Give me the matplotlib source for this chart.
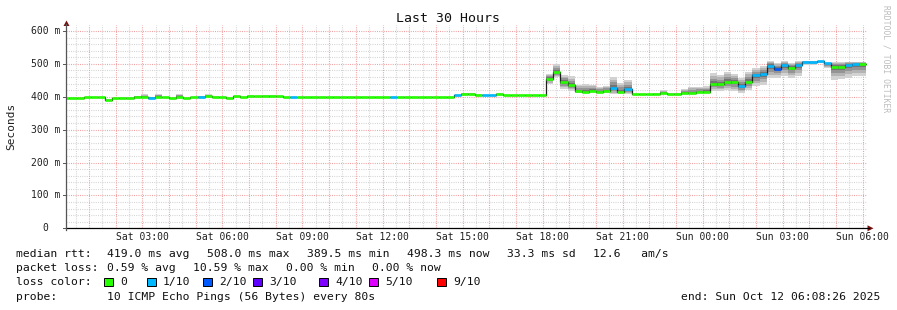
import numpy as np
import matplotlib
matplotlib.use("Agg")
import matplotlib.pyplot as plt
from matplotlib.patches import Rectangle, Polygon

# ---------------- data (16-minute consolidated steps, ms) ----------------
median_ms = [
    396, 396, 396, 398, 399, 399, 390, 396, 397, 397,
    399, 399, 397, 399, 398, 396, 399, 395, 398, 398,
    401, 400, 399, 396, 401, 398, 403, 401, 403, 403,
    401, 399, 399, 399, 399, 399, 399, 399, 399, 399,
    399, 399, 399, 399, 399, 399, 399, 399, 399, 399,
    399, 399, 399, 399, 399, 404, 407, 407, 406, 405,
    405, 409, 404, 404, 404, 404, 404, 404, 455, 475,
    445, 435, 417, 416, 419, 414, 418, 427, 414, 424,
    408, 408, 408, 409, 411, 409, 409, 411, 411, 415,
    416, 440, 438, 446, 444, 432, 446, 465, 469, 495,
    485, 497, 489, 497, 505, 505, 508, 502, 492, 492,
    497, 499, 500,
]
smoke_hi_ms = [
    397, 397, 397, 399, 400, 400, 392, 397, 398, 398,
    403, 408, 400, 409, 399, 397, 409, 396, 399, 403,
    407, 401, 400, 397, 402, 399, 404, 402, 404, 404,
    402, 400, 400, 400, 400, 400, 400, 400, 400, 400,
    400, 400, 400, 400, 400, 400, 400, 400, 400, 400,
    400, 400, 400, 400, 400, 405, 411, 411, 407, 406,
    406, 410, 405, 405, 405, 405, 405, 405, 470, 500,
    467, 462, 436, 440, 436, 431, 434, 460, 443, 450,
    409, 409, 409, 410, 420, 410, 410, 425, 430, 430,
    432, 471, 466, 475, 468, 458, 475, 488, 493, 508,
    504, 508, 503, 508, 508, 508, 510, 504, 507, 507,
    507, 507, 507,
]
smoke_lo_ms = [
    395, 395, 395, 397, 398, 398, 388, 395, 396, 396,
    398, 398, 396, 398, 397, 395, 398, 394, 397, 397,
    400, 399, 398, 395, 400, 397, 402, 400, 402, 402,
    400, 398, 398, 398, 398, 398, 398, 398, 398, 398,
    398, 398, 398, 398, 398, 398, 398, 398, 398, 398,
    398, 398, 398, 398, 398, 403, 406, 406, 405, 404,
    404, 408, 403, 403, 403, 403, 403, 403, 438, 460,
    423, 418, 410, 413, 413, 412, 412, 408, 410, 408,
    407, 407, 407, 408, 410, 408, 408, 410, 410, 410,
    412, 417, 418, 422, 418, 412, 422, 433, 437, 458,
    458, 463, 458, 463, 498, 498, 503, 488, 452, 455,
    458, 462, 462,
]
loss_count = [0] * 113
for k in [12, 19, 32, 46, 55, 59, 60, 77, 79, 95, 97, 98, 99, 101,
          103, 104, 105, 106, 107, 110, 111]:
    loss_count[k] = 1
loss_count[100] = 2

loss_levels = [0, 1, 2, 3, 4, 5, 9]
loss_labels = ["0", "1/10", "2/10", "3/10", "4/10", "5/10", "9/10"]
loss_colors = ["#26ff00", "#00b8ff", "#0059ff", "#5e00ff", "#7e00ff", "#dd00ff", "#ff0000"]

y_ticks = [0, 100, 200, 300, 400, 500, 600]
y_tick_labels = ["0", "100 m", "200 m", "300 m", "400 m", "500 m", "600 m"]
x_tick_hours = [3, 6, 9, 12, 15, 18, 21, 24, 27, 30]   # hours since Sat 00:00
x_tick_labels = ["Sat 03:00", "Sat 06:00", "Sat 09:00", "Sat 12:00", "Sat 15:00",
                 "Sat 18:00", "Sat 21:00", "Sun 00:00", "Sun 03:00", "Sun 06:00"]

title = "Last 30 Hours"
stats_rows = [
    [("median rtt:", 16), ("419.0 ms avg", 107), ("508.0 ms max", 207),
     ("389.5 ms min", 307), ("498.3 ms now", 407), ("33.3 ms sd", 507),
     ("12.6   am/s", 593)],
    [("packet loss:", 16), ("0.59 % avg", 107), ("10.59 % max", 193),
     ("0.00 % min", 286), ("0.00 % now", 372)],
]
probe_text = "10 ICMP Echo Pings (56 Bytes) every 80s"
end_text = "end: Sun Oct 12 06:08:26 2025"

# ---------------- layout ----------------
W, H, DPI = 897, 310, 100
MONO = "DejaVu Sans Mono"
plt.rcParams["lines.scale_dashes"] = False

START_CLOCK = 8 / 60 + 26 / 3600      # start time of window, hours after Sat 00:00
SPAN_H = 30.0
STEP_H = 16 / 60
STEP0_H = -0.14

AX_L, AX_R, AX_T, AX_B = 66.1, 866.5, 25.0, 228.3
PX_PER_MS = (228.3 - 31.0) / 600.0
YMAX = (AX_B - AX_T) / PX_PER_MS
LEG_FS = 8.2


def F(x, y):
    return x / W, 1 - y / H


fig = plt.figure(figsize=(W / DPI, H / DPI), dpi=DPI)
fig.patch.set_facecolor("white")
ax = fig.add_axes([AX_L / W, 1 - AX_B / H, (AX_R - AX_L) / W, (AX_B - AX_T) / H])
ax.set_xlim(0, SPAN_H)
ax.set_ylim(0, YMAX)
ax.set_facecolor("white")
for s in ax.spines.values():
    s.set_visible(False)
ax.set_xticks([])
ax.set_yticks([])

dots = (0.72, 0.9)
minor_c = "#d4d4d4"
major_c = "#f0a0a0"

# horizontal grid
for v in range(20, 620, 20):
    if v % 100 == 0:
        ax.axhline(v, color=major_c, lw=0.8, dashes=dots, zorder=0.6)
    else:
        ax.axhline(v, color=minor_c, lw=0.8, dashes=dots, zorder=0.5)
# vertical grid
for m in range(0, 64):
    t = m * 0.5 - START_CLOCK
    if 0 < t < SPAN_H + 0.01:
        if m % 2 == 0:
            ax.axvline(t, color=major_c, lw=0.8, dashes=dots, zorder=0.6)
        else:
            ax.axvline(t, color=minor_c, lw=0.8, dashes=dots, zorder=0.5)

# ---------------- smoke ----------------
med = np.array(median_ms, float)
hi = np.array(smoke_hi_ms, float)
lo = np.array(smoke_lo_ms, float)
n = len(med)
edges = STEP0_H + np.arange(n + 1) * STEP_H

smoke_shades = [(1.0, "#d2d2d2"), (0.75, "#b4b4b4"), (0.5, "#949494"), (0.25, "#747474")]
for frac, col in smoke_shades:
    top = med + frac * (hi - med)
    bot = med - frac * (med - lo)
    ax.fill_between(edges, np.append(bot, bot[-1]), np.append(top, top[-1]),
                    step="post", color=col, lw=0, zorder=1)

# black median connector
ax.step(edges, np.append(med, med[-1]), where="post", color="#202020", lw=0.9, zorder=2)
# loss-coloured median
cols = [loss_colors[loss_levels.index(c)] if c in loss_levels else loss_colors[-1]
        for c in loss_count]
ax.hlines(med, edges[:-1], edges[1:], colors=cols, lw=1.9, zorder=3, capstyle="butt")

# ---------------- axes lines and arrows ----------------
fig.add_artist(plt.Line2D([AX_L / W, 869 / W], [1 - AX_B / H] * 2,
                          color="black", lw=0.9, transform=fig.transFigure))
fig.add_artist(plt.Line2D([AX_L / W] * 2, [1 - 230 / H, 1 - 24 / H],
                          color="#555555", lw=0.9, transform=fig.transFigure))
fig.add_artist(Polygon([F(63.5, 26), F(69.5, 26), F(66.5, 20.5)], closed=True,
                       facecolor="#7a1010", edgecolor="none", transform=fig.transFigure))
fig.add_artist(Polygon([F(867.5, 225.3), F(867.5, 231.3), F(873.5, AX_B)], closed=True,
                       facecolor="#7a1010", edgecolor="none", transform=fig.transFigure))

# y ticks and labels
for v, lab in zip(y_ticks, y_tick_labels):
    yp = AX_B - v * PX_PER_MS
    fig.add_artist(plt.Line2D([63 / W, AX_L / W], [1 - yp / H] * 2, color="#555555",
                              lw=0.7, transform=fig.transFigure))
    xr = 60 if v != 0 else 48
    fig.text(*F(xr, yp), lab, ha="right", va="center", family=MONO, fontsize=7,
             color="#202020")

# x labels
for h, lab in zip(x_tick_hours, x_tick_labels):
    xp = AX_L + (h - START_CLOCK) * (AX_R - AX_L) / SPAN_H
    fig.text(*F(xp, 237.5), lab, ha="center", va="center", family=MONO, fontsize=7,
             color="#202020")

# titles
fig.text(*F(447.5, 19), title, ha="center", va="center", family=MONO, fontsize=9.5,
         color="#101010")
fig.text(*F(11, 126), "Seconds", ha="center", va="center", rotation=90, family=MONO,
         fontsize=8, color="#202020")
fig.text(*F(886, 59), "RRDTOOL / TOBI OETIKER", ha="center", va="center", rotation=270,
         family=MONO, fontsize=5.8, color="#bcbcbc")

# legend rows
row_y = [254, 268, 282, 296.5]
for row, yv in zip(stats_rows, row_y[:2]):
    for txt, xv in row:
        fig.text(*F(xv, yv), txt, ha="left", va="center", family=MONO, fontsize=LEG_FS,
                 color="#101010")
fig.text(*F(16, row_y[2]), "loss color:", ha="left", va="center", family=MONO,
         fontsize=LEG_FS, color="#101010")
box_x = [104, 147, 203, 253, 319, 369, 437]
for bx, col, lab in zip(box_x, loss_colors, loss_labels):
    fig.add_artist(Rectangle(F(bx, row_y[2] + 4), 8.5 / W, 8.5 / H, facecolor=col,
                             edgecolor="black", lw=0.7, transform=fig.transFigure))
    fig.text(*F(bx + 16, row_y[2]), lab, ha="left", va="center", family=MONO,
             fontsize=LEG_FS, color="#101010")
fig.text(*F(16, row_y[3]), "probe:", ha="left", va="center", family=MONO,
         fontsize=LEG_FS, color="#101010")
fig.text(*F(107, row_y[3]), probe_text, ha="left", va="center", family=MONO,
         fontsize=LEG_FS, color="#101010")
fig.text(*F(880, row_y[3]), end_text, ha="right", va="center", family=MONO,
         fontsize=LEG_FS, color="#101010")

fig.savefig("out.png", dpi=DPI, facecolor="white")
